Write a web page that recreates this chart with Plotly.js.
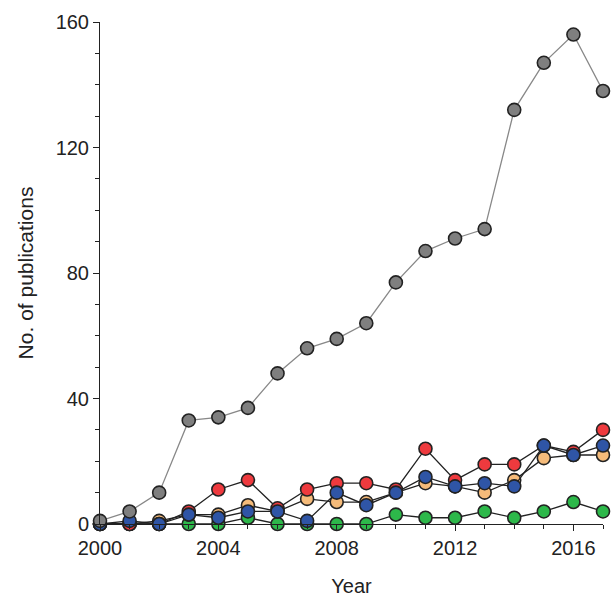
<!DOCTYPE html>
<html><head><meta charset="utf-8">
<script src="https://cdn.plot.ly/plotly-3.0.1.min.js"></script>
<style>body{margin:0}</style></head>
<body><div id="graph" style="width:613px;height:602px"></div>
<script>
const years = [2000,2001,2002,2003,2004,2005,2006,2007,2008,2009,2010,2011,2012,2013,2014,2015,2016,2017];
const grey = [1,4,10,33,34,37,48,56,59,64,77,87,91,94,132,147,156,138];
const red = [0,0,0,4,11,14,5,11,13,13,11,24,14,19,19,25,23,30];
const orange = [0,0,1,3,3,6,4,8,7,7,10,13,12,10,14,21,22,22];
const blue = [0,1,0,3,2,4,4,1,10,6,10,15,12,13,12,25,22,25];
const green = [0,0,0,0,0,2,0,0,0,0,3,2,2,4,2,4,7,4];

function tr(y, color, lineColor) {
  return {x: years, y: y, type: "scatter", mode: "lines+markers", cliponaxis: false,
    line: {color: lineColor, width: 1.3},
    marker: {size: 13, color: color, line: {color: "#222", width: 1.6}}};
}
const data = [
  tr(green, "#2db84a", "#222"),
  tr(orange, "#f5bb7a", "#222"),
  tr(red, "#ee3a3e", "#222"),
  tr(blue, "#2f55a6", "#222"),
  tr(grey, "#7f7f7f", "#888"),
];
const layout = {
  width: 613, height: 602, showlegend: false,
  paper_bgcolor: "#fff", plot_bgcolor: "#fff",
  margin: {l: 100, r: 10, t: 22, b: 78},
  font: {family: "Arial, Liberation Sans, sans-serif", color: "#222", size: 20},
  xaxis: {range: [2000, 2017], tickvals: [2000,2004,2008,2012,2016], showgrid: false, zeroline: false,
    showline: true, linecolor: "#222", ticks: "outside", ticklen: 6, tickcolor: "#222",
    minor: {dtick: 1, ticks: "outside", ticklen: 4, tickcolor: "#222"},
    title: {text: "Year", standoff: 20, font: {size: 20}}},
  yaxis: {range: [0, 160], tickvals: [0,40,80,120,160], showgrid: false, zeroline: false,
    showline: true, linecolor: "#222", ticks: "outside", ticklen: 6, tickcolor: "#222",
    minor: {dtick: 10, ticks: "outside", ticklen: 4, tickcolor: "#222"},
    title: {text: "No. of publications", standoff: 16, font: {size: 21}}},
};
Plotly.newPlot("graph", data, layout, {displayModeBar: false});
</script></body></html>
